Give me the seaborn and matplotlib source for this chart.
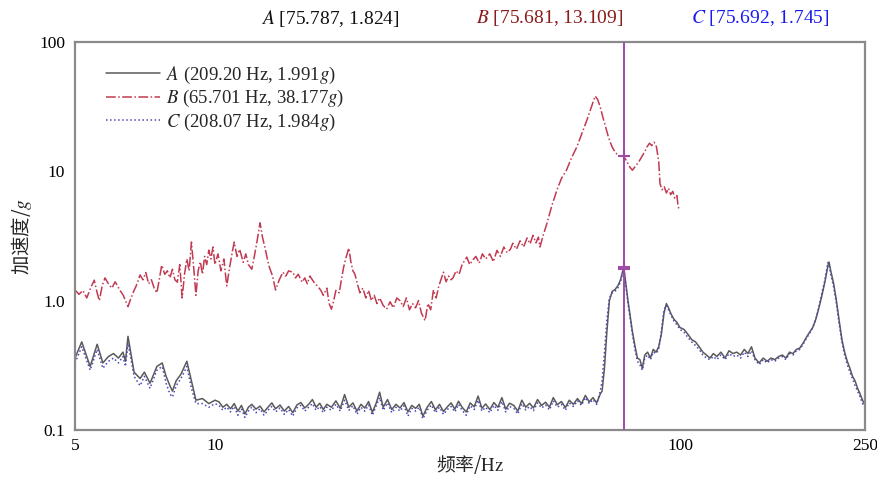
import numpy as np
import pandas as pd
import matplotlib
matplotlib.use("Agg")
import matplotlib.pyplot as plt
from matplotlib.ticker import NullLocator
import seaborn as sns

# ---------------- data ----------------
# shared frequency grid for A and C (Hz)
freq_low = [5.0, 5.17, 5.39, 5.58, 5.74, 5.9, 6.05, 6.2, 6.34, 6.42,
            6.5, 6.7, 6.9, 7.05, 7.25, 7.5, 7.7, 7.85, 8.0, 8.1,
            8.25, 8.45, 8.7, 8.9, 9.1, 9.4, 9.7, 10.0]
a_low = [0.36, 0.48, 0.31, 0.46, 0.33, 0.37, 0.39, 0.36, 0.40, 0.34,
         0.53, 0.28, 0.25, 0.28, 0.23, 0.31, 0.33, 0.26, 0.22, 0.20,
         0.24, 0.27, 0.34, 0.24, 0.17, 0.175, 0.16, 0.17]
c_low = [0.33, 0.44, 0.29, 0.42, 0.30, 0.34, 0.36, 0.33, 0.37, 0.31,
         0.47, 0.26, 0.22, 0.26, 0.21, 0.29, 0.31, 0.23, 0.19, 0.18,
         0.22, 0.25, 0.31, 0.21, 0.16, 0.16, 0.15, 0.16]

freq_mid = [10.2, 10.4, 10.6, 10.8, 11.0, 11.2, 11.4, 11.6, 11.8, 12.0,
            12.25, 12.5, 12.75, 13.0, 13.25, 13.5, 13.8, 14.1, 14.4, 14.7,
            15.0, 15.3, 15.6, 15.9, 16.2, 16.5, 16.8, 17.1, 17.4, 17.8,
            18.2, 18.6, 19.0, 19.4, 19.8, 20.2, 20.6, 21.0, 21.4, 21.8,
            22.2, 22.6, 23.0, 23.5, 24.0, 24.5, 25.0, 25.5, 26.0, 26.5,
            27.0, 27.5, 28.0, 28.6, 29.2, 29.8, 30.4, 31.0, 31.6, 32.2,
            32.8, 33.4, 34.0, 34.7, 35.4, 36.1, 36.8, 37.5, 38.2, 39.0,
            39.8, 40.6, 41.4, 42.2, 43.0, 43.9, 44.8, 45.7, 46.6, 47.5,
            48.4, 49.4, 50.4, 51.4, 52.4, 53.4, 54.5, 55.6, 56.7, 57.8,
            59.0, 60.2, 61.4, 62.6, 63.8, 65.0, 66.2, 67.4]
a_mid = [0.165, 0.150, 0.158, 0.146, 0.160, 0.140, 0.155, 0.133, 0.150, 0.158,
         0.145, 0.153, 0.138, 0.150, 0.162, 0.146, 0.156, 0.140, 0.152, 0.136,
         0.156, 0.163, 0.148, 0.158, 0.172, 0.150, 0.161, 0.144, 0.158, 0.150,
         0.168, 0.147, 0.188, 0.150, 0.162, 0.140, 0.158, 0.148, 0.166, 0.137,
         0.160, 0.196, 0.150, 0.172, 0.144, 0.158, 0.148, 0.163, 0.138, 0.155,
         0.147, 0.158, 0.128, 0.150, 0.166, 0.143, 0.158, 0.139, 0.151, 0.162,
         0.145, 0.167, 0.150, 0.138, 0.162, 0.151, 0.183, 0.147, 0.159, 0.144,
         0.163, 0.150, 0.178, 0.145, 0.161, 0.155, 0.140, 0.170, 0.150, 0.161,
         0.148, 0.172, 0.155, 0.164, 0.150, 0.178, 0.157, 0.166, 0.149, 0.170,
         0.158, 0.175, 0.160, 0.185, 0.165, 0.178, 0.162, 0.190]
c_mid = [0.155, 0.142, 0.150, 0.138, 0.152, 0.130, 0.146, 0.125, 0.140, 0.150,
         0.136, 0.146, 0.130, 0.142, 0.152, 0.138, 0.148, 0.132, 0.144, 0.128,
         0.148, 0.155, 0.140, 0.150, 0.160, 0.142, 0.152, 0.136, 0.150, 0.142,
         0.158, 0.140, 0.170, 0.142, 0.154, 0.132, 0.150, 0.140, 0.156, 0.130,
         0.152, 0.178, 0.142, 0.162, 0.136, 0.150, 0.140, 0.154, 0.128, 0.147,
         0.140, 0.150, 0.122, 0.142, 0.156, 0.136, 0.150, 0.132, 0.144, 0.152,
         0.138, 0.158, 0.142, 0.130, 0.154, 0.144, 0.170, 0.140, 0.150, 0.136,
         0.155, 0.142, 0.166, 0.138, 0.152, 0.147, 0.133, 0.160, 0.143, 0.152,
         0.141, 0.162, 0.148, 0.156, 0.143, 0.168, 0.150, 0.158, 0.142, 0.162,
         0.152, 0.168, 0.155, 0.178, 0.160, 0.172, 0.158, 0.200]

freq_high = [68.0, 68.8, 69.6, 70.5, 71.5, 72.5, 73.5, 74.5, 75.7, 76.5,
             77.3, 78.2, 79.0, 80.0, 81.0, 82.0, 83.0, 84.0, 85.2, 86.4,
             87.6, 88.8, 90.0, 91.2, 92.4, 93.5, 94.5, 95.5, 97.0, 98.5,
             100, 102, 104, 106, 108, 110, 112, 114, 116, 118,
             120, 122.5, 125, 127.5, 130, 132.5, 135, 137.5, 140, 142.5,
             145, 148, 151, 154, 157, 160, 163, 166, 169, 172,
             175, 178, 181, 184, 187, 190, 193, 196, 199, 202,
             205, 208, 209.2, 211, 214, 217, 220, 223, 226, 229,
             232, 235, 238, 241, 244, 247, 250]
a_high = [0.20, 0.30, 0.56, 1.00, 1.18, 1.22, 1.30, 1.45, 1.82, 1.35,
          1.00, 0.75, 0.58, 0.45, 0.36, 0.35, 0.30, 0.38, 0.40, 0.36,
          0.42, 0.40, 0.44, 0.55, 0.80, 0.95, 0.88, 0.80, 0.72, 0.68,
          0.62, 0.60, 0.55, 0.50, 0.48, 0.44, 0.40, 0.38, 0.36, 0.39,
          0.37, 0.40, 0.36, 0.41, 0.39, 0.40, 0.38, 0.42, 0.39, 0.44,
          0.36, 0.33, 0.36, 0.34, 0.36, 0.35, 0.37, 0.38, 0.36, 0.40,
          0.39, 0.42, 0.43, 0.47, 0.52, 0.57, 0.62, 0.72, 0.88, 1.10,
          1.40, 1.85, 1.99, 1.70, 1.36, 1.00, 0.70, 0.50, 0.40, 0.34,
          0.30, 0.26, 0.24, 0.21, 0.19, 0.17, 0.155]
c_high = [0.24, 0.40, 0.70, 1.05, 1.15, 1.18, 1.25, 1.40, 1.75, 1.30,
          0.95, 0.72, 0.55, 0.42, 0.34, 0.32, 0.29, 0.36, 0.38, 0.35,
          0.40, 0.39, 0.42, 0.58, 0.85, 0.92, 0.85, 0.78, 0.70, 0.65,
          0.60, 0.57, 0.52, 0.48, 0.45, 0.42, 0.38, 0.36, 0.35, 0.37,
          0.35, 0.38, 0.35, 0.39, 0.37, 0.38, 0.36, 0.40, 0.37, 0.41,
          0.35, 0.32, 0.35, 0.33, 0.35, 0.34, 0.36, 0.37, 0.35, 0.39,
          0.38, 0.41, 0.42, 0.46, 0.51, 0.56, 0.62, 0.72, 0.90, 1.15,
          1.45, 1.97, 1.90, 1.60, 1.28, 0.95, 0.66, 0.48, 0.38, 0.32,
          0.28, 0.25, 0.22, 0.20, 0.18, 0.16, 0.15]

freq_b = [5.0, 5.1, 5.2, 5.3, 5.4, 5.5, 5.58, 5.64, 5.72, 5.8,
          5.9, 6.0, 6.1, 6.25, 6.35, 6.5, 6.6, 6.7, 6.8, 6.9,
          7.0, 7.1, 7.2, 7.3, 7.4, 7.5, 7.6, 7.68, 7.8, 7.9,
          8.0, 8.1, 8.2, 8.3, 8.4, 8.5, 8.6, 8.7, 8.8, 8.9,
          9.0, 9.1, 9.2, 9.3, 9.4, 9.5, 9.6, 9.7, 9.8, 9.9,
          10.0, 10.15, 10.3, 10.45, 10.6, 10.75, 10.9, 11.0, 11.15, 11.3,
          11.5, 11.65, 11.8, 12.0, 12.15, 12.3, 12.5, 12.65, 12.8, 13.0,
          13.1, 13.3, 13.5, 13.75, 14.0, 14.2, 14.4, 14.7, 14.9, 15.1,
          15.4, 15.6, 15.8, 16.0, 16.3, 16.6, 16.9, 17.1, 17.4, 17.6,
          17.8, 18.0, 18.2, 18.5, 18.7, 18.9, 19.1, 19.4, 19.6, 19.8,
          20.0, 20.3, 20.5, 20.8, 21.1, 21.4, 21.7, 22.0, 22.3, 22.6,
          23.0, 23.4, 23.8, 24.2, 24.6, 25.0, 25.4, 25.8, 26.2, 26.6,
          27.0, 27.4, 27.8, 28.3, 28.7, 29.1, 29.5, 29.9, 30.3, 30.7,
          31.0, 31.4, 31.8, 32.2, 32.5, 33.0, 33.5, 34.0, 34.8, 35.3,
          35.8, 36.4, 37.0, 37.6, 38.2, 39.0, 39.7, 40.4, 41.1, 41.8,
          42.5, 43.2, 43.7, 44.5, 45.3, 46.1, 46.9, 47.6, 48.3, 49.0,
          49.6, 50.0, 50.8, 51.8, 53.0, 54.4, 55.6, 57.0, 58.5, 60.0,
          61.5, 63.1, 64.4, 65.7, 66.5, 67.4, 68.3, 69.2, 70.3, 71.5,
          72.6, 73.8, 75.68, 76.8, 78.0, 79.0, 80.3, 81.5, 82.8, 84.0,
          85.0, 86.0, 87.0, 88.0, 89.0, 90.0, 90.6, 91.5, 92.5, 93.5,
          94.5, 95.5, 96.5, 97.5, 98.5, 99.0, 99.6]
acc_b = [1.21, 1.12, 1.20, 1.05, 1.25, 1.44, 1.15, 1.00, 1.30, 1.50,
         1.35, 1.25, 1.40, 1.20, 1.10, 0.90, 1.05, 1.20, 1.35, 1.58,
         1.45, 1.65, 1.35, 1.45, 1.25, 1.15, 1.50, 1.88, 1.60, 1.70,
         1.50, 1.75, 1.45, 1.39, 1.90, 1.05, 1.60, 2.10, 1.70, 2.84,
         1.80, 1.10, 1.70, 2.00, 1.60, 2.20, 1.90, 2.46, 2.10, 2.60,
         1.90, 2.30, 1.70, 2.10, 1.30, 1.80, 2.40, 2.84, 2.20, 2.50,
         1.98, 2.30, 1.90, 1.75, 2.20, 2.80, 4.00, 3.10, 2.60, 2.00,
         1.80, 1.55, 1.21, 1.45, 1.66, 1.55, 1.70, 1.66, 1.50, 1.60,
         1.39, 1.50, 1.35, 1.55, 1.40, 1.30, 1.20, 1.10, 1.25, 0.95,
         0.86, 1.00, 1.20, 1.15, 1.45, 1.80, 2.10, 2.55, 2.00, 1.70,
         1.60, 1.30, 1.15, 1.25, 1.05, 1.20, 1.00, 1.10, 0.95, 1.05,
         0.92, 0.86, 0.98, 0.88, 1.05, 1.00, 0.90, 1.05, 0.85, 0.95,
         0.88, 1.00, 0.80, 0.70, 0.95, 0.85, 1.21, 1.05, 1.30, 1.50,
         1.66, 1.40, 1.55, 1.45, 1.50, 1.70, 1.60, 1.90, 2.17, 1.90,
         2.05, 2.20, 1.95, 2.30, 2.10, 2.30, 2.00, 2.45, 2.20, 2.60,
         2.35, 2.50, 2.78, 2.50, 2.90, 2.60, 3.05, 2.75, 3.20, 2.80,
         3.10, 2.60, 3.20, 4.00, 5.40, 7.20, 8.80, 10.2, 12.8, 15.4,
         19.5, 25.0, 31.0, 38.2, 36.0, 31.4, 26.0, 22.0, 18.0, 15.4,
         14.0, 13.2, 13.1, 12.0, 10.8, 10.2, 11.0, 11.8, 13.0, 14.2,
         15.5, 16.5, 15.8, 16.8, 15.5, 12.0, 8.0, 7.2, 7.6, 6.8,
         7.4, 6.6, 7.0, 6.2, 6.5, 5.5, 5.0]

series_labels = [r"$A$ (209.20 Hz, 1.991$g$)",
                 r"$B$ (65.701 Hz, 38.177$g$)",
                 r"$C$ (208.07 Hz, 1.984$g$)"]
cursor_names = ["A", "B", "C"]
cursor_x = [75.787, 75.681, 75.692]
cursor_y = [1.824, 13.109, 1.745]

xtick_vals = [5, 10, 100, 250]
xtick_labels = ["5", "10", "100", "250"]
ytick_vals = [0.1, 1, 10, 100]
ytick_labels = ["0.1", "1.0", "10", "100"]

# ---------------- figure ----------------
sns.set_theme(style="white")
plt.rcParams["font.family"] = ["Liberation Serif", "Noto Sans CJK SC", "DejaVu Sans"]
plt.rcParams["mathtext.fontset"] = "stix"

col_a = "#5a5a5a"
col_b = "#c23a52"
col_c = "#4848b8"
col_cursor = "#a04aa8"

fig = plt.figure(figsize=(8.77, 4.8), dpi=100)
ax = fig.add_axes([75 / 877, 50 / 480, 790 / 877, 388 / 480])

df_a = pd.DataFrame({"f": freq_low + freq_mid + freq_high, "v": a_low + a_mid + a_high})
df_c = pd.DataFrame({"f": freq_low + freq_mid + freq_high, "v": c_low + c_mid + c_high})
df_b = pd.DataFrame({"f": freq_b, "v": acc_b})

sns.lineplot(data=df_b, x="f", y="v", ax=ax, color=col_b, linewidth=1.1,
             linestyle="-.", estimator=None, sort=False, label=series_labels[1])
sns.lineplot(data=df_a, x="f", y="v", ax=ax, color=col_a, linewidth=1.1,
             linestyle="-", estimator=None, sort=False, label=series_labels[0])
sns.lineplot(data=df_c, x="f", y="v", ax=ax, color=col_c, linewidth=1.1,
             linestyle=":", estimator=None, sort=False, label=series_labels[2])

ax.set_xscale("log")
ax.set_yscale("log")
ax.set_xlim(5, 250)
ax.set_ylim(0.1, 100)

# cursor line and markers
ax.axvline(np.mean(cursor_x), color=col_cursor, linewidth=1.4, zorder=5)
ax.plot(cursor_x, cursor_y, linestyle="none", marker="+", markersize=8,
        markeredgewidth=1.5, color=col_cursor, zorder=6)

ax.set_xticks(xtick_vals)
ax.set_xticklabels(xtick_labels)
ax.set_yticks(ytick_vals)
ax.set_yticklabels(ytick_labels)
ax.xaxis.set_minor_locator(NullLocator())
ax.yaxis.set_minor_locator(NullLocator())
ax.tick_params(axis="both", length=0, labelsize=12.5, colors="black")
ax.tick_params(axis="x", pad=6)
ax.tick_params(axis="y", pad=7)

for sp in ax.spines.values():
    sp.set_color("#8a8a8a")
    sp.set_linewidth(1.6)

ax.set_xlabel("频率/$\\mathrm{Hz}$", fontsize=13.5,
              family=["Noto Sans CJK SC", "DejaVu Sans"], labelpad=-1)
ax.set_ylabel("加速度/$g$", fontsize=14,
              family=["Noto Sans CJK SC", "DejaVu Sans"], labelpad=4)

# legend in order A, B, C
handles, labels = ax.get_legend_handles_labels()
order = [labels.index(l) for l in series_labels]
leg = ax.legend([handles[i] for i in order], [labels[i] for i in order],
                loc="upper left", bbox_to_anchor=(0.025, 0.97), frameon=False,
                fontsize=13.5, handlelength=2.9, handletextpad=0.3,
                labelspacing=0.12, borderaxespad=0.2)

# top cursor readouts
text_cols = ["#111111", "#8b1a1a", "#1a1aee"]
text_x = [0.377, 0.627, 0.867]
for name, cx, cy, tc, tx in zip(cursor_names, cursor_x, cursor_y, text_cols, text_x):
    fig.text(tx, 0.962, f"${name}$ [{cx:.3f}, {cy:.3f}]", ha="center", va="center",
             color=tc, fontsize=14)

fig.savefig("out.png", dpi=100, facecolor="white")
